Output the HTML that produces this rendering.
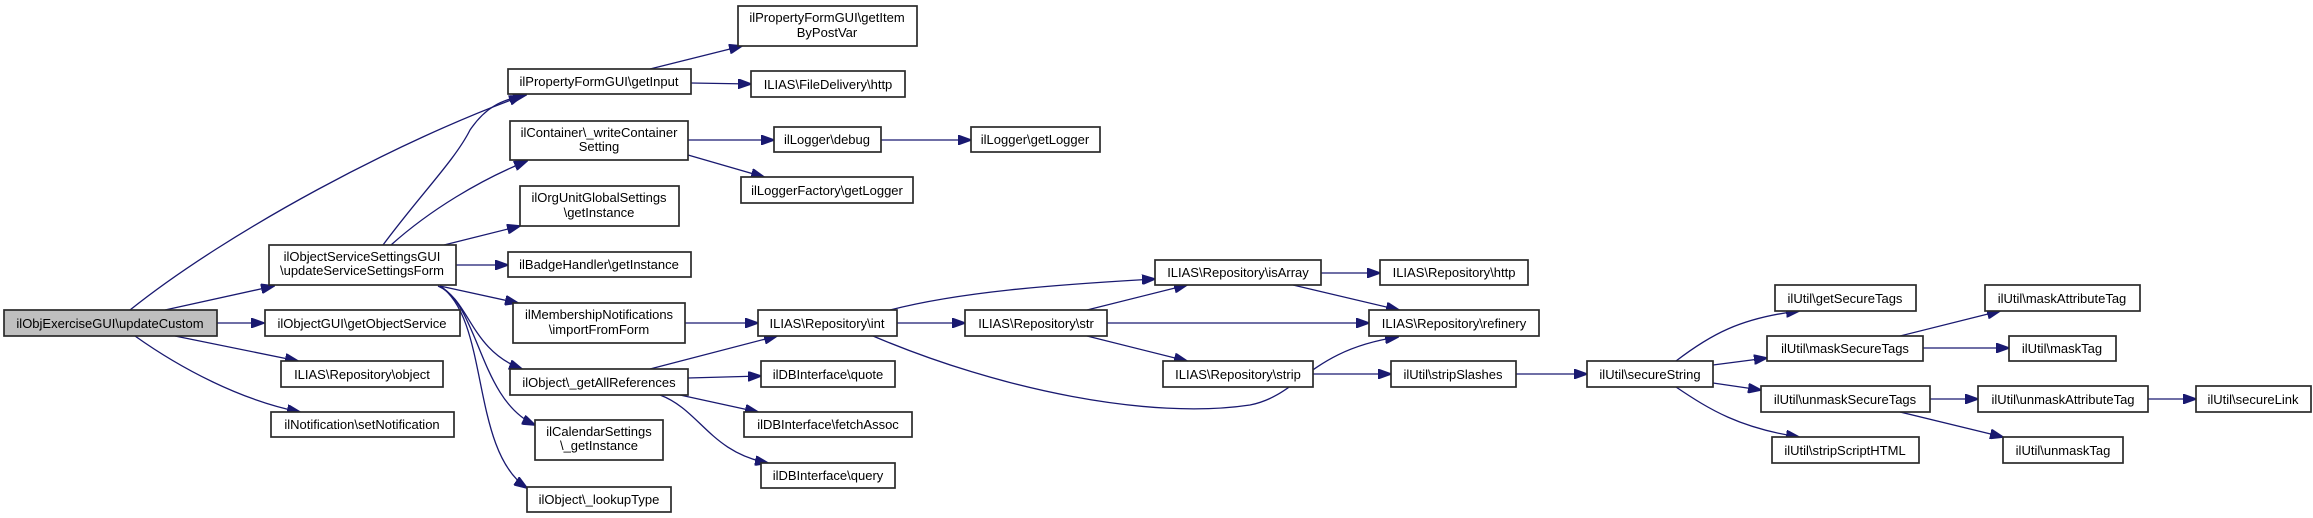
<!DOCTYPE html>
<html><head><meta charset="utf-8"><style>
html,body{margin:0;padding:0;background:#fff;}
svg{display:block;}
text{font-family:"Liberation Sans",Arial,sans-serif;font-size:13px;fill:#000;}
rect{fill:#fff;stroke:#2a2a2a;stroke-width:1.7;}
path.e{fill:none;stroke:#191970;stroke-width:1.3;}
</style></head><body>
<svg width="2313" height="518" viewBox="0 0 2313 518" xmlns="http://www.w3.org/2000/svg">
<defs><marker id="a" markerWidth="14" markerHeight="10" refX="13" refY="5" orient="auto" markerUnits="userSpaceOnUse"><path d="M0,0 L14,5 L0,10 Z" fill="#191970" stroke="#191970"/></marker></defs>
<g>
<path class="e" marker-end="url(#a)" d="M130,310 C230,230 400,140 522,96"/>
<path class="e" marker-end="url(#a)" d="M165,310 L274,286"/>
<path class="e" marker-end="url(#a)" d="M217,323 L264,323"/>
<path class="e" marker-end="url(#a)" d="M175,336 L298,361"/>
<path class="e" marker-end="url(#a)" d="M135,336 C180,368 240,400 300,412"/>
<path class="e" marker-end="url(#a)" d="M383,245 C420,195 455,160 470,130 C485,108 500,100 526,95"/>
<path class="e" marker-end="url(#a)" d="M391,245 C430,210 480,180 527,161"/>
<path class="e" marker-end="url(#a)" d="M444,245 L520,226"/>
<path class="e" marker-end="url(#a)" d="M456,265 L508,265"/>
<path class="e" marker-end="url(#a)" d="M440,286 L518,303"/>
<path class="e" marker-end="url(#a)" d="M438,286 C470,300 470,350 522,369"/>
<path class="e" marker-end="url(#a)" d="M440,286 C480,310 480,400 535,425"/>
<path class="e" marker-end="url(#a)" d="M440,286 C490,320 470,450 527,488"/>
<path class="e" marker-end="url(#a)" d="M650,69 L742,46"/>
<path class="e" marker-end="url(#a)" d="M691,83 L751,84"/>
<path class="e" marker-end="url(#a)" d="M688,140 L774,140"/>
<path class="e" marker-end="url(#a)" d="M688,155 L764,177"/>
<path class="e" marker-end="url(#a)" d="M881,140 L971,140"/>
<path class="e" marker-end="url(#a)" d="M685,323 L758,323"/>
<path class="e" marker-end="url(#a)" d="M650,369 L777,336"/>
<path class="e" marker-end="url(#a)" d="M688,378 L761,376"/>
<path class="e" marker-end="url(#a)" d="M680,395 L758,412"/>
<path class="e" marker-end="url(#a)" d="M660,395 C700,410 710,452 768,463"/>
<path class="e" marker-end="url(#a)" d="M890,310 C960,292 1050,285 1155,279"/>
<path class="e" marker-end="url(#a)" d="M897,323 L965,323"/>
<path class="e" marker-end="url(#a)" d="M873,336 C1000,390 1150,420 1250,405 C1300,395 1310,350 1398,337"/>
<path class="e" marker-end="url(#a)" d="M1087,310 L1187,285"/>
<path class="e" marker-end="url(#a)" d="M1107,323 L1369,323"/>
<path class="e" marker-end="url(#a)" d="M1087,336 L1187,361"/>
<path class="e" marker-end="url(#a)" d="M1321,273 L1380,273"/>
<path class="e" marker-end="url(#a)" d="M1293,285 L1399,310"/>
<path class="e" marker-end="url(#a)" d="M1313,374 L1391,374"/>
<path class="e" marker-end="url(#a)" d="M1516,374 L1587,374"/>
<path class="e" marker-end="url(#a)" d="M1676,361 C1710,335 1740,318 1799,311"/>
<path class="e" marker-end="url(#a)" d="M1713,365 L1767,358"/>
<path class="e" marker-end="url(#a)" d="M1713,383 L1761,390"/>
<path class="e" marker-end="url(#a)" d="M1676,387 C1710,410 1740,428 1799,437"/>
<path class="e" marker-end="url(#a)" d="M1900,336 L2000,311"/>
<path class="e" marker-end="url(#a)" d="M1923,348 L2009,348"/>
<path class="e" marker-end="url(#a)" d="M1930,399 L1978,399"/>
<path class="e" marker-end="url(#a)" d="M1900,412 L2003,437"/>
<path class="e" marker-end="url(#a)" d="M2148,399 L2196,399"/>
</g>
<g text-anchor="middle">
<rect x="4" y="310" width="213" height="26" style="fill:#bfbfbf"/><text x="110" y="328">ilObjExerciseGUI\updateCustom</text>
<rect x="269" y="245" width="187" height="40"/><text x="362" y="261">ilObjectServiceSettingsGUI</text><text x="362" y="275">\updateServiceSettingsForm</text>
<rect x="265" y="310" width="195" height="26"/><text x="362" y="328">ilObjectGUI\getObjectService</text>
<rect x="281" y="361" width="162" height="26"/><text x="362" y="379">ILIAS\Repository\object</text>
<rect x="271" y="412" width="183" height="25"/><text x="362" y="429">ilNotification\setNotification</text>
<rect x="508" y="69" width="183" height="25"/><text x="599" y="86">ilPropertyFormGUI\getInput</text>
<rect x="510" y="121" width="178" height="39"/><text x="599" y="137">ilContainer\_writeContainer</text><text x="599" y="151">Setting</text>
<rect x="520" y="186" width="159" height="40"/><text x="599" y="202">ilOrgUnitGlobalSettings</text><text x="599" y="217">\getInstance</text>
<rect x="508" y="252" width="183" height="25"/><text x="599" y="269">ilBadgeHandler\getInstance</text>
<rect x="513" y="303" width="172" height="40"/><text x="599" y="319">ilMembershipNotifications</text><text x="599" y="334">\importFromForm</text>
<rect x="510" y="369" width="178" height="26"/><text x="599" y="387">ilObject\_getAllReferences</text>
<rect x="535" y="420" width="128" height="40"/><text x="599" y="436">ilCalendarSettings</text><text x="599" y="450">\_getInstance</text>
<rect x="527" y="487" width="144" height="25"/><text x="599" y="504">ilObject\_lookupType</text>
<rect x="738" y="6" width="179" height="40"/><text x="827" y="22">ilPropertyFormGUI\getItem</text><text x="827" y="37">ByPostVar</text>
<rect x="751" y="71" width="154" height="26"/><text x="828" y="89">ILIAS\FileDelivery\http</text>
<rect x="774" y="127" width="107" height="25"/><text x="827" y="144">ilLogger\debug</text>
<rect x="971" y="127" width="129" height="25"/><text x="1035" y="144">ilLogger\getLogger</text>
<rect x="741" y="177" width="172" height="26"/><text x="827" y="195">ilLoggerFactory\getLogger</text>
<rect x="758" y="310" width="139" height="26"/><text x="827" y="328">ILIAS\Repository\int</text>
<rect x="761" y="361" width="134" height="26"/><text x="828" y="379">ilDBInterface\quote</text>
<rect x="744" y="412" width="168" height="25"/><text x="828" y="429">ilDBInterface\fetchAssoc</text>
<rect x="761" y="463" width="134" height="25"/><text x="828" y="480">ilDBInterface\query</text>
<rect x="965" y="310" width="142" height="26"/><text x="1036" y="328">ILIAS\Repository\str</text>
<rect x="1155" y="260" width="166" height="25"/><text x="1238" y="277">ILIAS\Repository\isArray</text>
<rect x="1163" y="361" width="150" height="26"/><text x="1238" y="379">ILIAS\Repository\strip</text>
<rect x="1380" y="260" width="148" height="25"/><text x="1454" y="277">ILIAS\Repository\http</text>
<rect x="1369" y="310" width="170" height="26"/><text x="1454" y="328">ILIAS\Repository\refinery</text>
<rect x="1391" y="361" width="125" height="26"/><text x="1453" y="379">ilUtil\stripSlashes</text>
<rect x="1587" y="361" width="126" height="26"/><text x="1650" y="379">ilUtil\secureString</text>
<rect x="1775" y="285" width="141" height="26"/><text x="1845" y="303">ilUtil\getSecureTags</text>
<rect x="1767" y="336" width="156" height="25"/><text x="1845" y="353">ilUtil\maskSecureTags</text>
<rect x="1761" y="386" width="169" height="26"/><text x="1845" y="404">ilUtil\unmaskSecureTags</text>
<rect x="1772" y="437" width="147" height="26"/><text x="1845" y="455">ilUtil\stripScriptHTML</text>
<rect x="1985" y="285" width="155" height="26"/><text x="2062" y="303">ilUtil\maskAttributeTag</text>
<rect x="2009" y="336" width="107" height="25"/><text x="2062" y="353">ilUtil\maskTag</text>
<rect x="1978" y="386" width="170" height="26"/><text x="2063" y="404">ilUtil\unmaskAttributeTag</text>
<rect x="2003" y="437" width="120" height="26"/><text x="2063" y="455">ilUtil\unmaskTag</text>
<rect x="2196" y="386" width="115" height="26"/><text x="2253" y="404">ilUtil\secureLink</text>
</g>
</svg>
</body></html>
